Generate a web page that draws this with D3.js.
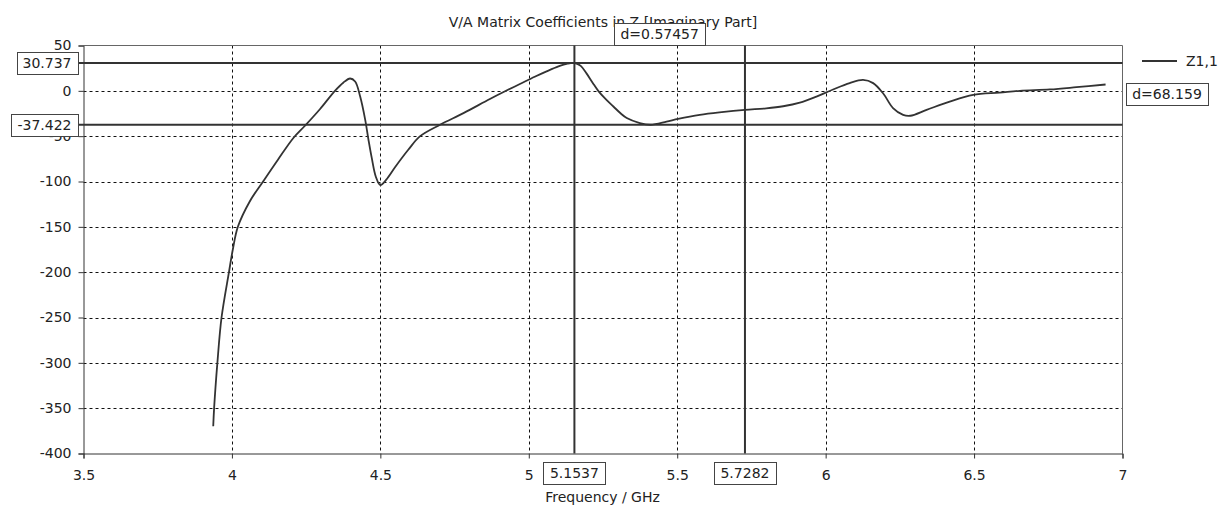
<!DOCTYPE html>
<html>
<head>
<meta charset="utf-8">
<script src="https://cdn.jsdelivr.net/npm/d3@7/dist/d3.min.js"></script>
<style>
  html, body { margin: 0; padding: 0; background: #fff; }
  svg { display: block; }
  text { font-family: "DejaVu Sans", sans-serif; fill: #222; }
</style>
</head>
<body>
<svg id="chart" width="1223" height="506"></svg>
<script>
// ---- data ----
const title = "V/A Matrix Coefficients in Z [Imaginary Part]";
const xLabel = "Frequency / GHz";
const seriesName = "Z1,1";
const xTicks = [3.5, 4, 4.5, 5, 5.5, 6, 6.5, 7];
const xTickLabels = ["3.5", "4", "4.5", "5", "5.5", "6", "6.5", "7"];
const yTicks = [50, 0, -50, -100, -150, -200, -250, -300, -350, -400];
const yTickLabels = ["50", "0", "-50", "-100", "-150", "-200", "-250", "-300", "-350", "-400"];
const freq = [3.937, 3.94, 3.951, 3.965, 3.99, 4.003, 4.02, 4.06, 4.105, 4.155, 4.207, 4.246, 4.297,
  4.347, 4.375, 4.398, 4.415, 4.432, 4.449, 4.46, 4.471, 4.485, 4.50, 4.52, 4.55,
  4.594, 4.634, 4.701, 4.78, 4.869, 4.92, 4.97, 5.02, 5.06, 5.10, 5.13, 5.155, 5.175, 5.195, 5.215,
  5.234, 5.26, 5.285, 5.31, 5.33, 5.374, 5.41, 5.464, 5.503, 5.576, 5.65, 5.728, 5.8, 5.857, 5.913,
  5.969, 6.025, 6.081, 6.126, 6.16, 6.194, 6.227, 6.261, 6.285, 6.34, 6.418, 6.497, 6.586, 6.654,
  6.755, 6.845, 6.943];
const z11Imag = [-370, -350, -300, -250, -200, -175, -150, -122, -100, -76, -52, -38.5, -20,
  0, 9, 13.6, 10.3, -6.3, -32, -54, -74, -95, -104, -98, -84,
  -65, -50, -37.4, -24.6, -9, -0.5, 7.5, 15.5, 21.5, 27, 30, 30.7, 27.5, 19, 9,
  0, -9.5, -17.3, -25, -30, -35.5, -37.4, -34, -31, -26.5, -23.5, -21, -19.3, -17, -13,
  -6.3, 1.5, 8.5, 12, 8.5, -3, -19, -26.5, -27.5, -21, -11.8, -4.4, -2, 0,
  1.5, 4, 7];
const markerX = [5.1537, 5.7282];
const markerXLabels = ["5.1537", "5.7282"];
const markerXDelta = "d=0.57457";
const markerY = [30.737, -37.422];
const markerYLabels = ["30.737", "-37.422"];
const markerYDelta = "d=68.159";

// ---- layout ----
const svg = d3.select("#chart");
const L = 83.5, R = 1122.5, T = 45.5, B = 453.5;
const x = d3.scaleLinear().domain([3.5, 7]).range([L, R]);
const y = d3.scaleLinear().domain([-400, 50]).range([B, T]);
const FS = 14;

// grid
const grid = svg.append("g");
grid.selectAll("line.gx").data(xTicks.filter(d => d > 3.5 && d < 7)).join("line")
  .attr("x1", d => Math.round(x(d)) + 0.5).attr("x2", d => Math.round(x(d)) + 0.5)
  .attr("y1", T).attr("y2", B)
  .attr("stroke", "#111").attr("stroke-width", 1).attr("stroke-dasharray", "3,3");
grid.selectAll("line.gy").data(yTicks.filter(d => d < 50 && d > -400)).join("line")
  .attr("y1", d => Math.round(y(d)) + 0.5).attr("y2", d => Math.round(y(d)) + 0.5)
  .attr("x1", L).attr("x2", R)
  .attr("stroke", "#111").attr("stroke-width", 1).attr("stroke-dasharray", "3,3");

// frame top/right
svg.append("path").attr("d", `M${L},${T}H${R}V${B}`)
  .attr("fill", "none").attr("stroke", "#666").attr("stroke-width", 1);

// axes
const xAxis = svg.append("g").attr("transform", `translate(0,${B})`)
  .call(d3.axisBottom(x).tickValues(xTicks).tickFormat((d, i) => xTickLabels[i]).tickSize(5).tickPadding(12));
xAxis.select(".domain").attr("stroke", "#333");
xAxis.selectAll(".tick line").attr("stroke", "#333");
xAxis.selectAll("text").attr("font-size", FS).attr("font-family", "DejaVu Sans").attr("fill", "#222");

const yAxis = svg.append("g").attr("transform", `translate(${L},0)`)
  .call(d3.axisLeft(y).tickValues(yTicks).tickFormat((d, i) => yTickLabels[i]).tickSize(5).tickPadding(7));
yAxis.select(".domain").attr("stroke", "#333");
yAxis.selectAll(".tick line").attr("stroke", "#333");
yAxis.selectAll("text").attr("font-size", FS).attr("font-family", "DejaVu Sans").attr("fill", "#222");

// title & axis label
svg.append("text").attr("x", 603).attr("y", 27).attr("text-anchor", "middle")
  .attr("font-size", FS).text(title);
svg.append("text").attr("x", 602.5).attr("y", 502).attr("text-anchor", "middle")
  .attr("font-size", FS).text(xLabel);

// curve
const pts = freq.map((f, i) => [f, z11Imag[i]]);
svg.append("path").datum(pts)
  .attr("d", d3.line().x(d => x(d[0])).y(d => y(d[1])).curve(d3.curveCatmullRom.alpha(0.5)))
  .attr("fill", "none").attr("stroke", "#333").attr("stroke-width", 1.8)
  .attr("stroke-linejoin", "round");

// markers
svg.selectAll("line.mx").data(markerX).join("line")
  .attr("x1", d => x(d)).attr("x2", d => x(d)).attr("y1", T).attr("y2", B)
  .attr("stroke", "#333").attr("stroke-width", 2);
svg.selectAll("line.my").data(markerY).join("line")
  .attr("y1", d => y(d)).attr("y2", d => y(d)).attr("x1", 78).attr("x2", R)
  .attr("stroke", "#333").attr("stroke-width", 2);

function labelBox(cx, cy, txt, anchor, x0, w) {
  const g = svg.append("g");
  g.append("rect").attr("x", x0 + 0.5).attr("y", cy - 11 + 0.5).attr("width", w).attr("height", 22)
    .attr("fill", "#fff").attr("stroke", "#444").attr("stroke-width", 1);
  g.append("text").attr("x", cx).attr("y", cy + 5).attr("text-anchor", anchor)
    .attr("font-size", FS).text(txt);
}
// y-marker labels (right-aligned at tick labels)
markerY.forEach((v, i) => {
  const cy = Math.round(y(v));
  const w = i === 0 ? 61 : 67;
  labelBox(71.5, cy, markerYLabels[i], "end", 78 - w, w);
});
// x-marker labels
markerX.forEach((v, i) => {
  const cx = x(v);
  labelBox(cx, 473, markerXLabels[i], "middle", Math.round(cx - 31), 62);
});
// delta labels
labelBox((x(markerX[0]) + x(markerX[1])) / 2, 34, markerXDelta, "middle",
  Math.round((x(markerX[0]) + x(markerX[1])) / 2 - 45.5), 91);
labelBox(1167, 94, markerYDelta, "middle", 1126, 82);

// legend
svg.append("line").attr("x1", 1142).attr("x2", 1177).attr("y1", 61).attr("y2", 61)
  .attr("stroke", "#333").attr("stroke-width", 1.8);
svg.append("text").attr("x", 1186).attr("y", 66).attr("font-size", FS).text(seriesName);
</script>
</body>
</html>
